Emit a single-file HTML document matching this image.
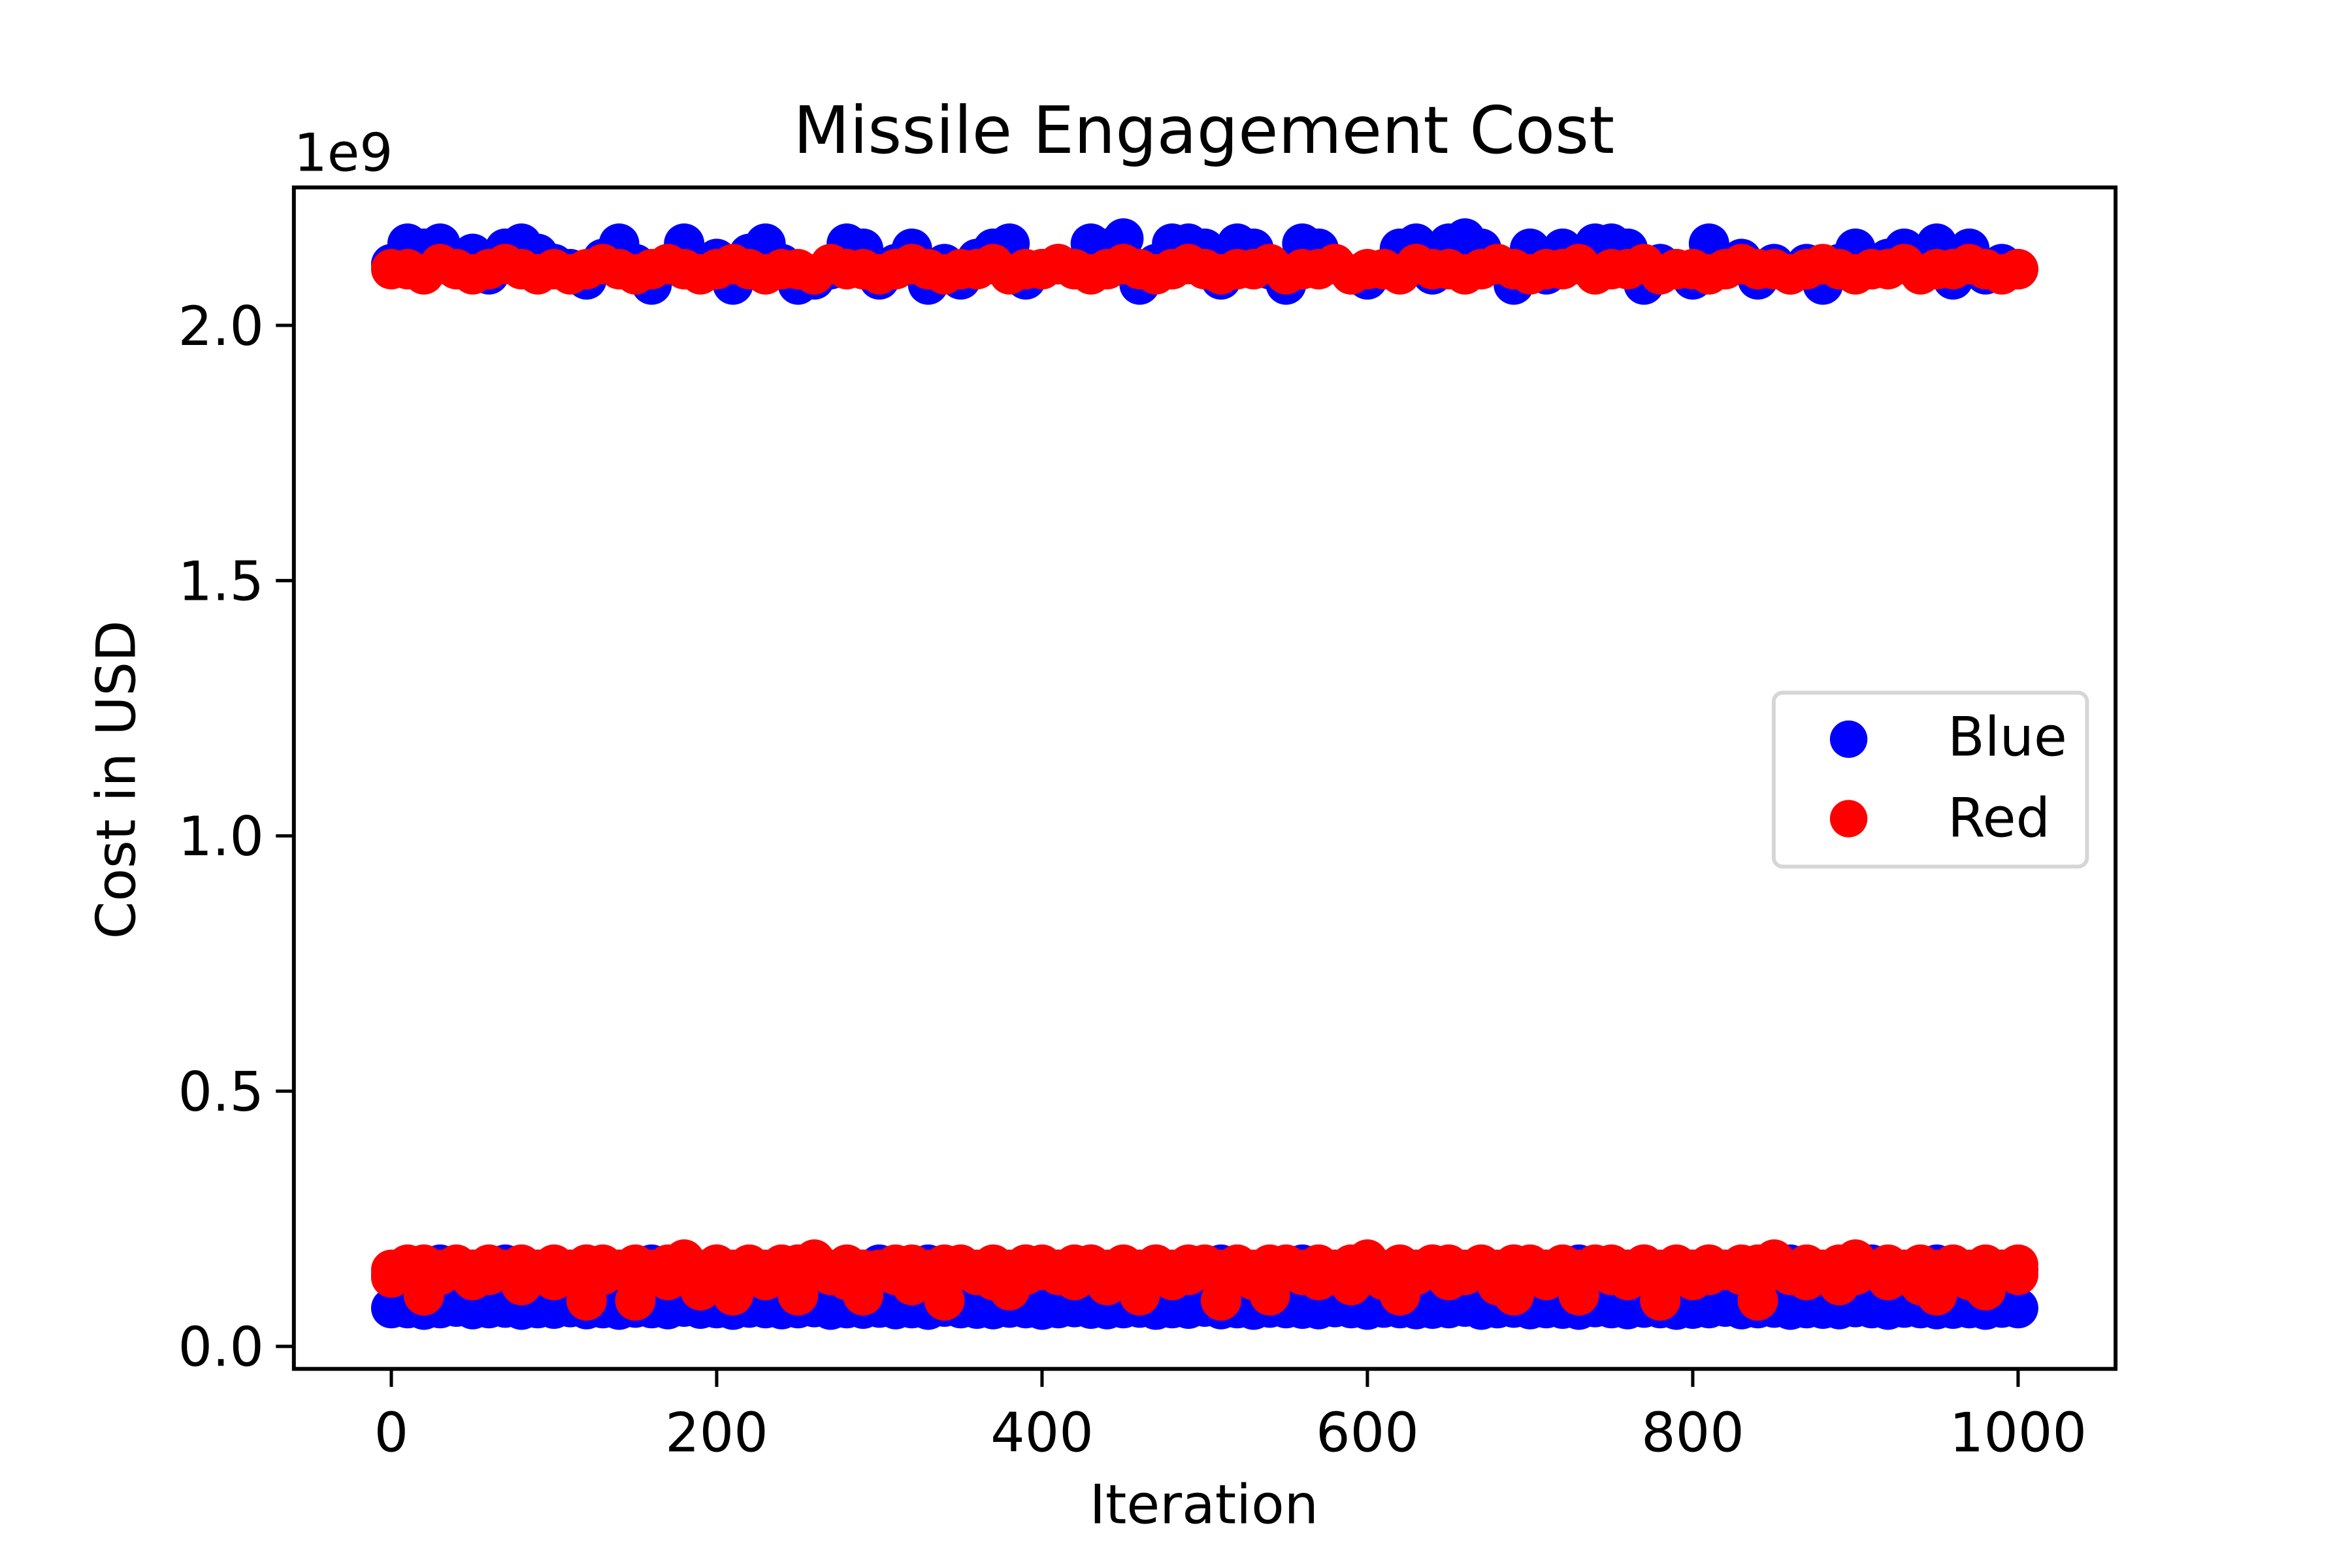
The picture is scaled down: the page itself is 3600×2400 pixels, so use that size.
<!DOCTYPE html>
<html><head><meta charset="utf-8"><style>
html,body{margin:0;padding:0;background:#fff}
svg{display:block}
text{font-family:"DejaVu Sans","Liberation Sans",sans-serif;fill:#000}
</style></head><body>
<svg id="chart" width="3600" height="2400" viewBox="0 0 1568.6 1045.8" preserveAspectRatio="xMinYMin meet" xmlns="http://www.w3.org/2000/svg">
<rect width="1570" height="1050" fill="#fff"/>
<g id="marks"></g>
<rect x="196" y="125" width="1215" height="788" fill="none" stroke="#000" stroke-width="2.6"/>
<g id="xticks"></g>
<g id="yticks"></g>
<text x="803" y="102" font-size="43.5" text-anchor="middle">Missile Engagement Cost</text>
<text x="196" y="114" font-size="35">1e9</text>
<text x="803" y="1016" font-size="36" text-anchor="middle">Iteration</text>
<text transform="translate(90,520) rotate(-90)" font-size="36" text-anchor="middle">Cost in USD</text>
<g>
<rect x="1183" y="462" width="209" height="116" rx="6" fill="#fff" stroke="#d6d6d6" stroke-width="2.6"/>
<circle cx="1233" cy="493" r="12.5" fill="#0000ff"/>
<text x="1299" y="504" font-size="36">Blue</text>
<circle cx="1233" cy="546" r="12.5" fill="#ff0000"/>
<text x="1299" y="558" font-size="36">Red</text>
</g>
</svg>
<script>
const xTicks=[0,200,400,600,800,1000];
const yTicks=[0.0,0.5,1.0,1.5,2.0];
const yTickLabels=["0.0","0.5","1.0","1.5","2.0"];
const stepIter=10;
const blueHigh=[2.12,2.16,2.15,2.16,2.12,2.14,2.10,2.15,2.16,2.14,2.12,2.11,2.09,2.13,2.16,2.12,2.08,2.12,2.16,2.11,2.13,2.08,2.14,2.16,2.12,2.08,2.09,2.11,2.16,2.15,2.09,2.12,2.15,2.08,2.12,2.09,2.13,2.15,2.16,2.09,2.11,2.12,2.11,2.16,2.15,2.17,2.08,2.12,2.16,2.16,2.15,2.09,2.16,2.15,2.11,2.08,2.16,2.15,2.12,2.10,2.09,2.11,2.15,2.16,2.10,2.16,2.17,2.15,2.12,2.08,2.15,2.10,2.15,2.12,2.16,2.16,2.15,2.08,2.12,2.11,2.09,2.16,2.12,2.13,2.09,2.12,2.10,2.12,2.08,2.12,2.15,2.11,2.13,2.15,2.12,2.16,2.09,2.15,2.10,2.12,2.11];
const blueLow=[0.075,0.075,0.072,0.075,0.078,0.073,0.075,0.076,0.072,0.075,0.074,0.077,0.073,0.075,0.072,0.076,0.075,0.073,0.078,0.074,0.075,0.072,0.076,0.075,0.073,0.075,0.077,0.072,0.075,0.074,0.076,0.073,0.075,0.072,0.078,0.075,0.074,0.073,0.076,0.075,0.072,0.075,0.077,0.074,0.073,0.075,0.076,0.072,0.075,0.074,0.078,0.073,0.075,0.072,0.076,0.075,0.074,0.073,0.077,0.075,0.072,0.076,0.075,0.073,0.074,0.075,0.078,0.072,0.075,0.076,0.073,0.075,0.074,0.072,0.077,0.075,0.073,0.076,0.075,0.072,0.074,0.075,0.078,0.073,0.075,0.076,0.072,0.075,0.074,0.073,0.077,0.075,0.072,0.076,0.075,0.073,0.074,0.075,0.072,0.076,0.075];
const blueMid=[0.14,0.15,0.13,0.16,0.12,0.15,0.14,0.16,0.13,0.15,0.14,0.12,0.16,0.15,0.13,0.14,0.16,0.12,0.15,0.14,0.16,0.13,0.15,0.14,0.12,0.16,0.15,0.13,0.14,0.15,0.16,0.12,0.14,0.16,0.15,0.13,0.14,0.15,0.12,0.16,0.14,0.15,0.13,0.16,0.14,0.12,0.15,0.16,0.13,0.14,0.15,0.16,0.12,0.14,0.15,0.13,0.16,0.14,0.15,0.12,0.16,0.14,0.13,0.15,0.16,0.12,0.14,0.15,0.13,0.16,0.14,0.15,0.12,0.16,0.14,0.13,0.15,0.16,0.12,0.14,0.15,0.16,0.13,0.14,0.12,0.15,0.16,0.14,0.13,0.15,0.12,0.16,0.14,0.15,0.13,0.16,0.14,0.12,0.15,0.14,0.15];
const redHigh=[2.11,2.11,2.10,2.12,2.11,2.10,2.11,2.12,2.11,2.10,2.11,2.10,2.11,2.12,2.11,2.10,2.11,2.12,2.11,2.10,2.11,2.12,2.11,2.10,2.11,2.11,2.10,2.12,2.11,2.11,2.10,2.11,2.12,2.11,2.10,2.11,2.11,2.12,2.10,2.11,2.11,2.12,2.11,2.10,2.11,2.12,2.11,2.10,2.11,2.12,2.11,2.10,2.11,2.11,2.12,2.10,2.11,2.11,2.12,2.10,2.11,2.11,2.10,2.12,2.11,2.11,2.10,2.11,2.12,2.11,2.10,2.11,2.11,2.12,2.10,2.11,2.11,2.12,2.10,2.11,2.11,2.10,2.11,2.12,2.11,2.11,2.10,2.11,2.12,2.11,2.10,2.11,2.11,2.12,2.10,2.11,2.11,2.12,2.11,2.10,2.11];
const redLow=[0.135,0.15,0.10,0.14,0.15,0.13,0.14,0.15,0.12,0.14,0.13,0.15,0.09,0.14,0.15,0.09,0.14,0.13,0.15,0.11,0.14,0.10,0.15,0.13,0.14,0.10,0.15,0.14,0.13,0.10,0.15,0.14,0.12,0.14,0.09,0.15,0.14,0.13,0.11,0.14,0.15,0.14,0.13,0.15,0.12,0.14,0.10,0.15,0.13,0.14,0.15,0.09,0.14,0.13,0.10,0.15,0.14,0.13,0.14,0.12,0.15,0.13,0.10,0.14,0.15,0.13,0.14,0.15,0.12,0.10,0.15,0.13,0.14,0.10,0.15,0.14,0.13,0.15,0.09,0.14,0.13,0.14,0.15,0.14,0.09,0.15,0.14,0.13,0.15,0.12,0.14,0.15,0.13,0.14,0.12,0.10,0.14,0.13,0.11,0.15,0.14];
const redLow2=[0.15,0.16,0.16,0.15,0.16,0.15,0.16,0.15,0.16,0.15,0.16,0.15,0.16,0.16,0.15,0.16,0.15,0.16,0.17,0.15,0.16,0.15,0.16,0.15,0.16,0.16,0.17,0.15,0.16,0.15,0.15,0.16,0.16,0.15,0.16,0.16,0.15,0.16,0.15,0.16,0.16,0.15,0.16,0.16,0.15,0.16,0.15,0.16,0.15,0.16,0.16,0.15,0.16,0.15,0.16,0.16,0.15,0.16,0.15,0.16,0.17,0.15,0.16,0.15,0.16,0.16,0.15,0.16,0.15,0.16,0.16,0.15,0.16,0.15,0.16,0.16,0.15,0.16,0.15,0.16,0.15,0.16,0.15,0.16,0.16,0.17,0.15,0.16,0.15,0.16,0.17,0.15,0.16,0.15,0.16,0.15,0.16,0.15,0.16,0.15,0.16];

const NS="http://www.w3.org/2000/svg";
function xPos(v){return 261+v*(1346-261)/1000;}
function yPos(v){return 898-v*(898-217)/2.0;}
const marks=document.getElementById('marks');
function drawSeries(arr,color,name){
  arr.forEach((v,i)=>{
    const c=document.createElementNS(NS,'circle');
    c.setAttribute('cx',xPos(i*stepIter));
    c.setAttribute('cy',yPos(v));
    c.setAttribute('r',13.5);
    c.setAttribute('fill',color);
    
    
    marks.appendChild(c);
  });
}
drawSeries(blueHigh,'#0000ff','blue-point');
drawSeries(blueLow,'#0000ff','blue-point');
drawSeries(blueMid,'#0000ff','blue-point');
drawSeries(redHigh,'#ff0000','red-point');
drawSeries(redLow2,'#ff0000','red-point');
drawSeries(redLow,'#ff0000','red-point');

const xg=document.getElementById('xticks');
xTicks.forEach(t=>{
  const l=document.createElementNS(NS,'line');
  l.setAttribute('x1',xPos(t));l.setAttribute('x2',xPos(t));
  l.setAttribute('y1',913);l.setAttribute('y2',925);
  l.setAttribute('stroke','#000');l.setAttribute('stroke-width',2.2);
  
  
  xg.appendChild(l);
  const tx=document.createElementNS(NS,'text');
  tx.setAttribute('x',xPos(t));tx.setAttribute('y',968);
  tx.setAttribute('font-size',36);tx.setAttribute('text-anchor','middle');
  tx.textContent=String(t);
  
  
  xg.appendChild(tx);
});
const yg=document.getElementById('yticks');
yTicks.forEach((t,i)=>{
  const l=document.createElementNS(NS,'line');
  l.setAttribute('x1',184);l.setAttribute('x2',196);
  l.setAttribute('y1',yPos(t));l.setAttribute('y2',yPos(t));
  l.setAttribute('stroke','#000');l.setAttribute('stroke-width',2.2);
  
  
  yg.appendChild(l);
  const tx=document.createElementNS(NS,'text');
  tx.setAttribute('x',176);tx.setAttribute('y',yPos(t)+13);
  tx.setAttribute('font-size',36);tx.setAttribute('text-anchor','end');
  tx.textContent=yTickLabels[i];
  
  
  yg.appendChild(tx);
});
</script>
</body></html>
